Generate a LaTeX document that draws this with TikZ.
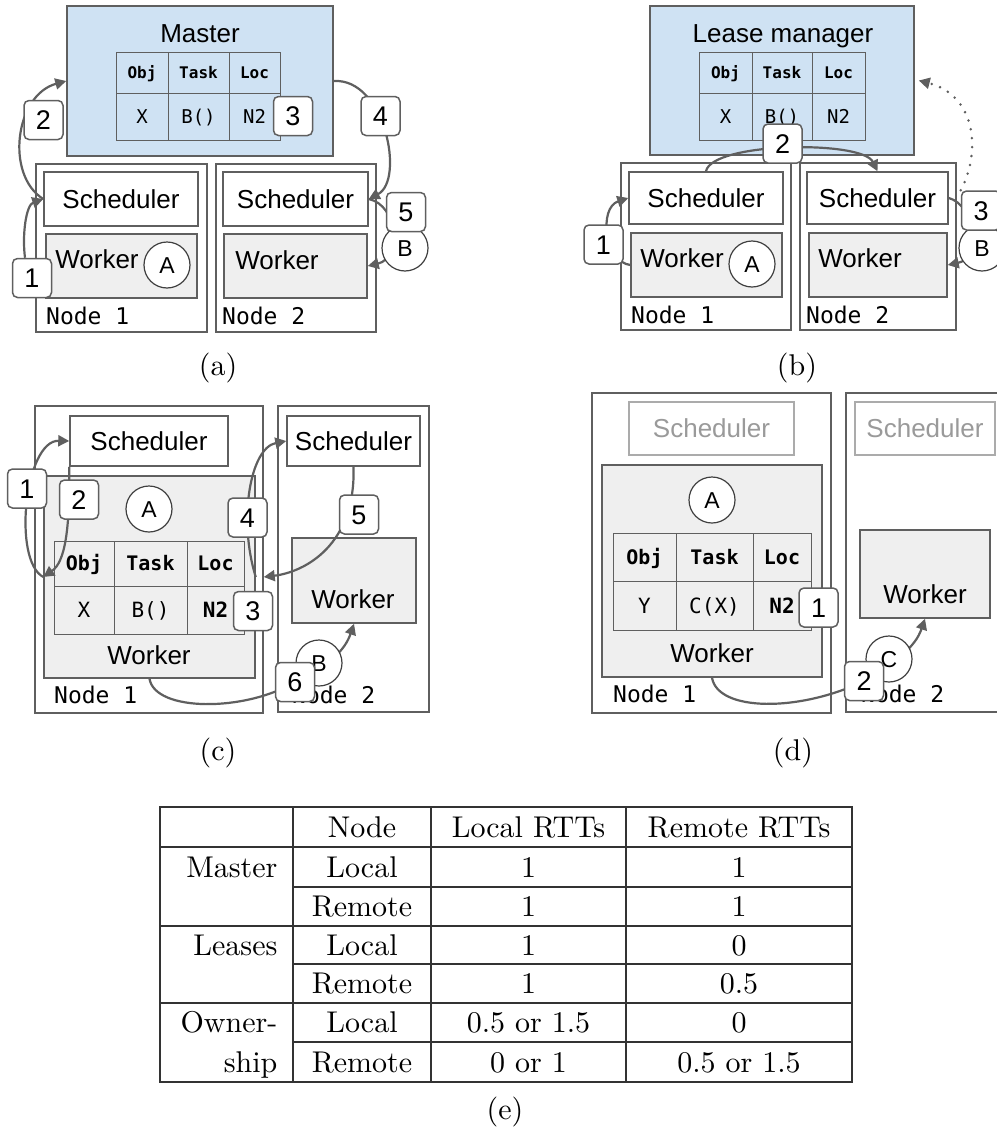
\documentclass[tikz,border=0pt]{standalone}
\usepackage{fontspec}
\setsansfont{Liberation Sans}
\setmonofont{DejaVu Sans Mono}
\usepackage{xcolor}
\usetikzlibrary{arrows.meta,positioning}

\definecolor{masterblue}{HTML}{CFE2F3}
\definecolor{workgray}{HTML}{EFEFEF}
\definecolor{linegray}{HTML}{5F5F5F}
\definecolor{fadegray}{HTML}{ABABAB}

\pgfdeclarelayer{fg}
\pgfsetlayers{main,fg}

\newcommand{\fsz}[1]{\fontsize{#1}{#1}\selectfont}

\begin{document}
\begin{tikzpicture}[x=1pt, y=-1pt,
    box/.style={draw=linegray, line width=1.5pt, inner sep=0pt},
    sans/.style={font=\sffamily\fsz{26}, text height=18.6pt, text depth=0pt},
    mgr/.style={box, fill=masterblue},
    nodebox/.style={box, fill=white},
    sched/.style={box, fill=white, sans},
    faded/.style={draw=fadegray, line width=1.5pt, fill=white, inner sep=0pt, sans, text=fadegray!90!black},
    worker/.style={box, fill=workgray},
    txt/.style={inner sep=0pt, sans},
    nodename/.style={inner sep=0pt, anchor=west, font=\ttfamily\fsz{23}, text height=16.8pt, text depth=0pt},
    thead/.style={draw=linegray, line width=1pt, inner sep=0pt, font=\ttfamily\bfseries\fsz{16}, text height=11.7pt, text depth=0pt},
    tdata/.style={draw=linegray, line width=1pt, inner sep=0pt, font=\ttfamily\fsz{19}, text height=13.9pt, text depth=0pt},
    bighead/.style={thead, font=\ttfamily\bfseries\fsz{20}, text height=14.6pt},
    bigdata/.style={tdata, font=\ttfamily\fsz{21}, text height=15.3pt},
    num/.style={draw=linegray, line width=1.5pt, fill=white, rounded corners=5pt, minimum size=39pt, inner sep=0pt, font=\sffamily\fsz{27}, text height=19.3pt, text depth=0pt},
    obj/.style={circle, draw=black!75, line width=1.2pt, fill=white, minimum size=46pt, inner sep=0pt, font=\sffamily\fsz{23}, text height=16.5pt, text depth=0pt},
    arrow/.style={-{Triangle[length=11pt,width=11pt]}, draw=linegray, line width=2.2pt},
    dotarrow/.style={arrow, line width=2.8pt, line cap=round, dash pattern=on 0pt off 9pt},
    subcap/.style={inner sep=0pt, font=\fsz{10}, scale=3, transform shape},
    tab/.style={inner sep=0pt, font=\fsz{10}, text height=6.83pt, text depth=0pt, scale=3, transform shape},
    rule/.style={draw=black!80, line width=1.2pt}
]
    \useasboundingbox (0,0) rectangle (996,1135);

    % (a) Master
    \node[nodebox, minimum width=171pt, minimum height=168pt] (n1a) at (121.5,248) {};
    \node[nodebox, minimum width=160pt, minimum height=168pt] (n2a) at (296,248) {};
    \node[mgr, minimum width=266pt, minimum height=150pt] (mgra) at (200,81) {};
    \node[txt] (mgratxt) at (200,33) {Master};
    \node[thead, minimum width=52pt, minimum height=41pt] (ha1) at (142,72.5) {Obj};
    \node[thead, minimum width=61pt, minimum height=41pt] (ha2) at (198.5,72.5) {Task};
    \node[thead, minimum width=51pt, minimum height=41pt] (ha3) at (254.5,72.5) {Loc};
    \node[tdata, minimum width=52pt, minimum height=47pt] (da1) at (142,116.5) {X};
    \node[tdata, minimum width=61pt, minimum height=47pt] (da2) at (198.5,116.5) {B()};
    \node[tdata, minimum width=51pt, minimum height=47pt] (da3) at (254.5,116.5) {N2};
    \node[sched, minimum width=154pt, minimum height=54pt] (sa1) at (121,199) {Scheduler};
    \node[sched, minimum width=145pt, minimum height=54pt] (sa2) at (295.5,199) {Scheduler};
    \node[worker, minimum width=151pt, minimum height=64pt] (wa1) at (121.5,266) {};
    \node[worker, minimum width=143pt, minimum height=64pt] (wa2) at (295.5,266) {};
    \node[txt] (wa1txt) at (97,259) {Worker};
    \node[txt] (wa2txt) at (277,260) {Worker};
    \node[nodename] (na1) at (46,316) {Node 1};
    \node[nodename] (na2) at (222,316) {Node 2};

    % (b) Lease manager
    \node[nodebox, minimum width=170pt, minimum height=167pt] (n1b) at (706,246.5) {};
    \node[nodebox, minimum width=156pt, minimum height=167pt] (n2b) at (878,246.5) {};
    \node[mgr, minimum width=264pt, minimum height=149pt] (lm) at (782,80.5) {};
    \node[txt] (lmtxt) at (783,33) {Lease manager};
    \node[thead, minimum width=53pt, minimum height=41pt] (hb1) at (725.5,72.5) {Obj};
    \node[thead, minimum width=60pt, minimum height=41pt] (hb2) at (782,72.5) {Task};
    \node[thead, minimum width=53pt, minimum height=41pt] (hb3) at (838.5,72.5) {Loc};
    \node[tdata, minimum width=53pt, minimum height=47pt] (db1) at (725.5,116.5) {X};
    \node[tdata, minimum width=60pt, minimum height=47pt] (db2) at (782,116.5) {B()};
    \node[tdata, minimum width=53pt, minimum height=47pt] (db3) at (838.5,116.5) {N2};
    \node[sched, minimum width=154pt, minimum height=52pt] (sb1) at (706,198) {Scheduler};
    \node[sched, minimum width=141pt, minimum height=52pt] (sb2) at (877.5,198) {Scheduler};
    \node[worker, minimum width=151pt, minimum height=64pt] (wb1) at (706.5,265) {};
    \node[worker, minimum width=138pt, minimum height=64pt] (wb2) at (878,265) {};
    \node[txt] (wb1txt) at (682,258) {Worker};
    \node[txt] (wb2txt) at (860,258) {Worker};
    \node[nodename] (nb1) at (631,315) {Node 1};
    \node[nodename] (nb2) at (806,315) {Node 2};

    % (c)
    \node[nodebox, minimum width=228pt, minimum height=307pt] (n1c) at (149,559.5) {};
    \node[nodebox, minimum width=151pt, minimum height=306pt] (n2c) at (353.5,559) {};
    \node[sched, minimum width=158pt, minimum height=50pt] (sc1) at (149,441) {Scheduler};
    \node[sched, minimum width=133pt, minimum height=50pt] (sc2) at (353.5,441) {Scheduler};
    \node[worker, minimum width=211pt, minimum height=202pt] (wc1) at (149.5,577) {};
    \node[bighead, minimum width=60pt, minimum height=45pt] (hc1) at (84,563.5) {Obj};
    \node[bighead, minimum width=73pt, minimum height=45pt] (hc2) at (150.5,563.5) {Task};
    \node[bighead, minimum width=57pt, minimum height=45pt] (hc3) at (215.5,563.5) {Loc};
    \node[bigdata, minimum width=60pt, minimum height=48pt] (dc1) at (84,610) {X};
    \node[bigdata, minimum width=73pt, minimum height=48pt] (dc2) at (150.5,610) {B()};
    \node[bigdata, minimum width=57pt, minimum height=48pt] (dc3) at (215.5,610) {\textbf{N2}};
    \node[txt] (wc1txt) at (149,655) {Worker};
    \node[worker, minimum width=124pt, minimum height=85pt] (wc2) at (354,580.5) {};
    \node[txt] (wc2txt) at (353,599) {Worker};
    \node[nodename] (nc1) at (54,695) {Node 1};
    \node[nodename] (nc2) at (292,695) {Node 2};

    % (d)
    \node[nodebox, minimum width=239pt, minimum height=320pt] (n1d) at (711.5,553) {};
    \node[nodebox, minimum width=160pt, minimum height=319pt] (n2d) at (926,552.5) {};
    \node[faded, minimum width=165pt, minimum height=53pt] (sd1) at (711.5,428.5) {Scheduler};
    \node[faded, minimum width=140pt, minimum height=53pt] (sd2) at (925,428.5) {Scheduler};
    \node[worker, minimum width=220pt, minimum height=212pt] (wd1) at (712,571) {};
    \node[bighead, minimum width=63pt, minimum height=48pt] (hd1) at (644.5,557) {Obj};
    \node[bighead, minimum width=77pt, minimum height=48pt] (hd2) at (714.5,557) {Task};
    \node[bighead, minimum width=58pt, minimum height=48pt] (hd3) at (782,557) {Loc};
    \node[bigdata, minimum width=63pt, minimum height=49pt] (dd1) at (644.5,605.5) {Y};
    \node[bigdata, minimum width=77pt, minimum height=49pt] (dd2) at (714.5,605.5) {C(X)};
    \node[bigdata, minimum width=58pt, minimum height=49pt] (dd3) at (782,605.5) {\textbf{N2}};
    \node[txt] (wd1txt) at (712,653) {Worker};
    \node[worker, minimum width=130pt, minimum height=88pt] (wd2) at (925,574) {};
    \node[txt] (wd2txt) at (925,594) {Worker};
    \node[nodename] (nd1) at (613,694) {Node 1};
    \node[nodename] (nd2) at (861,694) {Node 2};

    % steps and objects, on top
    \begin{pgfonlayer}{fg}
        \node[obj] (oa1) at (167,265) {A};
        \node[obj] (oa2) at (405,248) {B};
        \node[num] (la1) at (32,278) {1};
        \node[num] (la2) at (43.5,120) {2};
        \node[num] (la3) at (293,116) {3};
        \node[num] (la4) at (380.5,116) {4};
        \node[num] (la5) at (406,212) {5};

        \node[obj] (ob1) at (752,264) {A};
        \node[obj] (ob2) at (982,248) {B};
        \node[num] (lb1) at (603.5,244.5) {1};
        \node[num] (lb2) at (782.5,143.5) {2};
        \node[num] (lb3) at (981,210.5) {3};

        \node[obj] (oc1) at (149,509) {A};
        \node[obj] (oc2) at (319,663) {B};
        \node[num] (lc1) at (27,488.5) {1};
        \node[num] (lc2) at (79,499.5) {2};
        \node[num] (lc3) at (253,611) {3};
        \node[num] (lc4) at (247.5,517.5) {4};
        \node[num] (lc5) at (359,514.5) {5};
        \node[num] (lc6) at (295,682) {6};

        \node[obj] (od1) at (712,500) {A};
        \node[obj] (od2) at (889,659) {C};
        \node[num] (ld1) at (818.5,607.5) {1};
        \node[num] (ld2) at (864,681) {2};
    \end{pgfonlayer}

    % arrows (a)
    \draw[arrow] ([xshift=-7pt]la1.north) .. controls (22,235) and (26,205) .. (sa1.west);
    \draw[arrow] (sa1.west) .. controls (5,175) and (15,95) .. (mgra.west);
    \draw[arrow] (mgra.east) .. controls (385,78) and (405,180) .. (sa2.east);
    \draw[arrow] (sa2.east) .. controls (398,205) and (402,258) .. (wa2.east);

    % arrows (b)
    \draw[arrow] (wb1.west) .. controls (605,262) and (598,208) .. (sb1.west);
    \draw[arrow] (sb1.north) .. controls (712,142) and (862,140) .. (sb2.north);
    \draw[arrow] (sb2.east) .. controls (975,205) and (982,258) .. (wb2.east);
    \draw[dotarrow] (lb3.north west) .. controls (982,150) and (975,95) .. ([xshift=4pt]lm.east);

    % arrows (c)
    \draw[arrow] (wc1.west) .. controls (12,560) and (25,440) .. (sc1.west);
    \draw[arrow] (sc1.south west) .. controls (70,530) and (65,562) .. (wc1.west);
    \draw[arrow] (wc1.east) .. controls (238,520) and (250,448) .. (sc2.west);
    \draw[arrow] (sc2.south) .. controls (356,545) and (305,572) .. (wc1.east -| n1c.east);
    \draw[arrow] (wc1.south) .. controls (155,712) and (245,712) .. (lc6.center)
        .. controls (330,665) and (345,650) .. (wc2.south);

    % arrows (d)
    \draw[arrow] (wd1.south) .. controls (718,712) and (800,712) .. (ld2.center)
        .. controls (895,662) and (915,648) .. (wd2.south);

    % captions
    \node[subcap] (capa) at (218,368) {(a)};
    \node[subcap] (capb) at (797,368) {(b)};
    \node[subcap] (capc) at (218,753) {(c)};
    \node[subcap] (capd) at (793,753) {(d)};
    \node[subcap] (cape) at (505,1112) {(e)};

    % (e) table
    \node[rule, draw, minimum width=692pt, minimum height=275pt, inner sep=0pt] (tbl) at (506,944.5) {};
    \draw[rule] (293,807) -- (293,1082);
    \draw[rule] (431,807) -- (431,1082);
    \draw[rule] (626,807) -- (626,1082);
    \draw[rule] (160,847) -- (852,847);
    \draw[rule] (160,926) -- (852,926);
    \draw[rule] (160,1003) -- (852,1003);
    \draw[rule] (293,887) -- (852,887);
    \draw[rule] (293,964) -- (852,964);
    \draw[rule] (293,1042) -- (852,1042);

    \node[tab] (th2) at (362,827) {Node};
    \node[tab] (th3) at (528.5,827) {Local RTTs};
    \node[tab] (th4) at (739,827) {Remote RTTs};

    \node[tab, anchor=east] (r1) at (278,867) {Master};
    \node[tab, anchor=east] (r3) at (278,945) {Leases};
    \node[tab, anchor=east] (r5) at (278,1022.5) {Owner-};
    \node[tab, anchor=east] (r6) at (278,1062) {ship};

    \node[tab] (r1c2) at (362,867) {Local};
    \node[tab] (r2c2) at (362,906.5) {Remote};
    \node[tab] (r3c2) at (362,945) {Local};
    \node[tab] (r4c2) at (362,983.5) {Remote};
    \node[tab] (r5c2) at (362,1022.5) {Local};
    \node[tab] (r6c2) at (362,1062) {Remote};

    \node[tab] (r1c3) at (528.5,867) {1};
    \node[tab] (r2c3) at (528.5,906.5) {1};
    \node[tab] (r3c3) at (528.5,945) {1};
    \node[tab] (r4c3) at (528.5,983.5) {1};
    \node[tab] (r5c3) at (528.5,1022.5) {0.5 or 1.5};
    \node[tab] (r6c3) at (528.5,1062) {0 or 1};

    \node[tab] (r1c4) at (739,867) {1};
    \node[tab] (r2c4) at (739,906.5) {1};
    \node[tab] (r3c4) at (739,945) {0};
    \node[tab] (r4c4) at (739,983.5) {0.5};
    \node[tab] (r5c4) at (739,1022.5) {0};
    \node[tab] (r6c4) at (739,1062) {0.5 or 1.5};
\end{tikzpicture}
\end{document}
